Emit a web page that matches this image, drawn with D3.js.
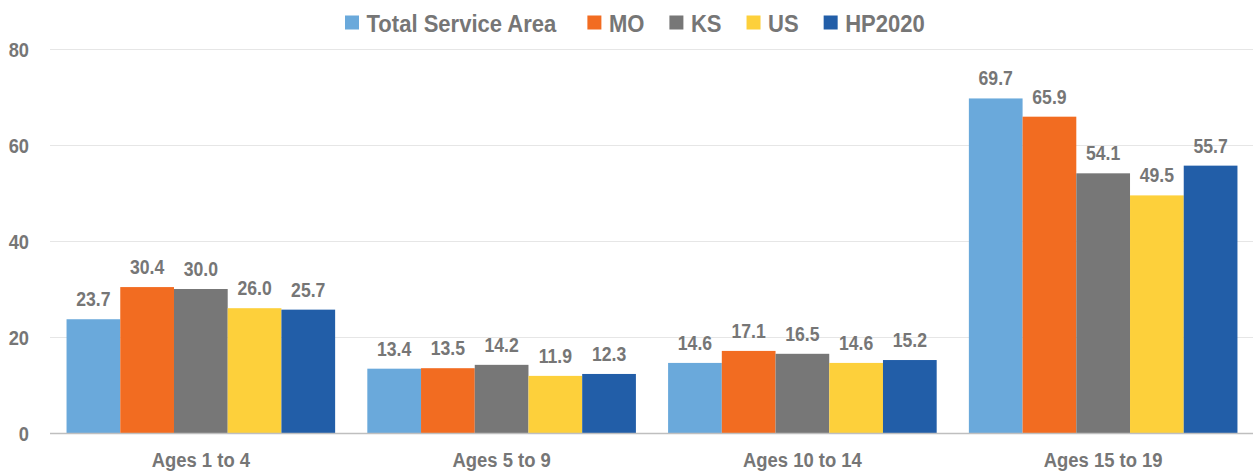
<!DOCTYPE html>
<html>
<head>
<meta charset="utf-8">
<script src="https://cdn.jsdelivr.net/npm/d3@7"></script>
<style>
  body { margin: 0; background: #fff; }
  text { font-family: "Liberation Sans", Arial, sans-serif; font-weight: bold; fill: #767676; }
</style>
</head>
<body>
<div id="chart"></div>
<script>
// data
const groups = ["Ages 1 to 4", "Ages 5 to 9", "Ages 10 to 14", "Ages 15 to 19"];
const seriesNames = ["Total Service Area", "MO", "KS", "US", "HP2020"];
const seriesColors = ["#6AA9DB", "#F26C21", "#777777", "#FDD03B", "#225EA8"];
const totalServiceArea = [23.7, 13.4, 14.6, 69.7];
const mo = [30.4, 13.5, 17.1, 65.9];
const ks = [30.0, 14.2, 16.5, 54.1];
const us = [26.0, 11.9, 14.6, 49.5];
const hp2020 = [25.7, 12.3, 15.2, 55.7];
const yTicks = [0, 20, 40, 60, 80];

const seriesValues = [totalServiceArea, mo, ks, us, hp2020];
const data = groups.map((g, i) => ({
  group: g,
  values: seriesNames.map((s, j) => ({ key: s, value: seriesValues[j][i] }))
}));

const W = 1253, H = 475;
const margin = { top: 49, right: 0, bottom: 42, left: 50 };

const svg = d3.select("#chart").append("svg")
  .attr("width", W)
  .attr("height", H);

const x0 = d3.scaleBand()
  .domain(groups)
  .range([margin.left, W + 1])
  .paddingInner(0.107)
  .paddingOuter(0.055);

const x1 = d3.scaleBand()
  .domain(seriesNames)
  .range([0, x0.bandwidth()])
  .padding(0);

const y = d3.scaleLinear()
  .domain([0, 80])
  .range([H - margin.bottom, margin.top]);

const color = d3.scaleOrdinal().domain(seriesNames).range(seriesColors);

// condensed-looking text: scale horizontally around the anchor
function squish(sel, sx) {
  sel.attr("transform", function () {
    const t = d3.select(this);
    return `translate(${t.attr("data-x")},${t.attr("data-y")}) scale(${sx},1)`;
  });
}

// gridlines
svg.append("g")
  .selectAll("line")
  .data(yTicks.filter(d => d > 0))
  .join("line")
  .attr("x1", margin.left)
  .attr("x2", W)
  .attr("y1", d => Math.round(y(d)) + 0.5)
  .attr("y2", d => Math.round(y(d)) + 0.5)
  .attr("stroke", "#E6E6E6")
  .attr("stroke-width", 1);

// y tick labels
svg.append("g")
  .selectAll("text")
  .data(yTicks)
  .join("text")
  .attr("data-x", 29)
  .attr("data-y", d => y(d) + 7.5)
  .attr("text-anchor", "end")
  .style("font-size", "21px")
  .text(d => d)
  .call(squish, 0.87);

// bars
const gGroups = svg.append("g")
  .selectAll("g")
  .data(data)
  .join("g")
  .attr("transform", d => `translate(${x0(d.group)},0)`);

gGroups.selectAll("rect")
  .data(d => d.values)
  .join("rect")
  .attr("x", d => x1(d.key))
  .attr("y", d => y(d.value))
  .attr("width", x1.bandwidth())
  .attr("height", d => y(0) - y(d.value))
  .attr("fill", d => color(d.key));

// value labels
gGroups.selectAll("text")
  .data(d => d.values)
  .join("text")
  .attr("data-x", d => x1(d.key) + x1.bandwidth() / 2)
  .attr("data-y", d => y(d.value) - 13)
  .attr("text-anchor", "middle")
  .style("font-size", "21px")
  .text(d => d.value.toFixed(1))
  .call(squish, 0.84);

// zero axis line
svg.append("line")
  .attr("x1", margin.left)
  .attr("x2", W)
  .attr("y1", Math.round(y(0)) + 0.5)
  .attr("y2", Math.round(y(0)) + 0.5)
  .attr("stroke", "#BFBFBF")
  .attr("stroke-width", 1.5);

// x labels
svg.append("g")
  .selectAll("text")
  .data(groups)
  .join("text")
  .attr("data-x", d => x0(d) + x0.bandwidth() / 2)
  .attr("data-y", 467)
  .attr("text-anchor", "middle")
  .style("font-size", "20.5px")
  .text(d => d)
  .call(squish, 0.9);

// legend
const legendGaps = [31, 25, 25, 25, 0];
const legendScale = 0.9;
const legend = svg.append("g");
const items = legend.selectAll("g")
  .data(seriesNames)
  .join("g");
items.append("rect")
  .attr("width", 14)
  .attr("height", 14)
  .attr("y", 15.5)
  .attr("fill", d => color(d));
items.append("text")
  .attr("data-x", 21.5)
  .attr("data-y", 31.5)
  .style("font-size", "24.5px")
  .text(d => d)
  .call(squish, legendScale);

let cx = 345;
items.each(function (d, i) {
  const g = d3.select(this);
  const w = g.select("text").node().getComputedTextLength() * legendScale;
  g.attr("transform", `translate(${cx},0)`);
  cx += 21.5 + w + legendGaps[i];
});
</script>
</body>
</html>
